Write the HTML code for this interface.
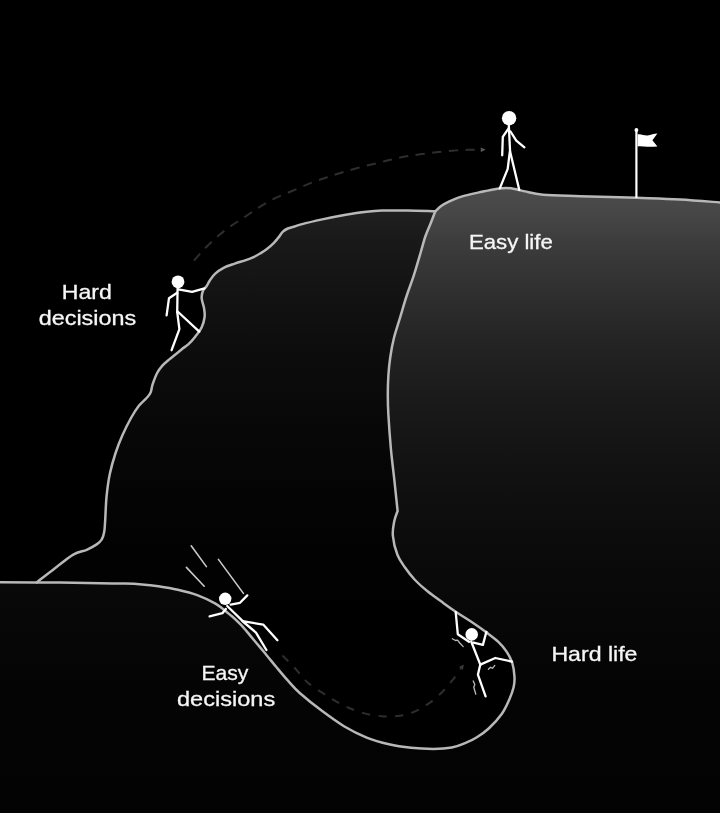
<!DOCTYPE html>
<html><head><meta charset="utf-8"><style>
html,body{margin:0;padding:0;background:#000;}
body{width:720px;height:813px;overflow:hidden;position:relative;}
svg{position:absolute;left:0;top:0;display:block;}
</style></head><body>
<svg width="720" height="813" viewBox="0 0 720 813">
<defs>
<linearGradient id="gP" x1="0" y1="190" x2="0" y2="813" gradientUnits="userSpaceOnUse">
<stop offset="0.0000" stop-color="#4b4b4b"/>
<stop offset="0.0401" stop-color="#464646"/>
<stop offset="0.0803" stop-color="#3d3d3d"/>
<stop offset="0.1605" stop-color="#303030"/>
<stop offset="0.2408" stop-color="#242424"/>
<stop offset="0.3371" stop-color="#1a1a1a"/>
<stop offset="0.4013" stop-color="#151515"/>
<stop offset="0.4976" stop-color="#0f0f0f"/>
<stop offset="0.5939" stop-color="#0a0a0a"/>
<stop offset="0.6581" stop-color="#080808"/>
<stop offset="0.7223" stop-color="#060606"/>
<stop offset="0.8186" stop-color="#040404"/>
<stop offset="1.0000" stop-color="#030303"/>
</linearGradient>
<linearGradient id="gM" x1="0" y1="210" x2="0" y2="560" gradientUnits="userSpaceOnUse">
<stop offset="0.0000" stop-color="#202020"/>
<stop offset="0.0857" stop-color="#191919"/>
<stop offset="0.2571" stop-color="#121212"/>
<stop offset="0.4000" stop-color="#0d0d0d"/>
<stop offset="0.6000" stop-color="#080808"/>
<stop offset="0.7714" stop-color="#050505"/>
<stop offset="1.0000" stop-color="#020202"/>
</linearGradient>
</defs>
<rect width="720" height="813" fill="#000"/>
<path d="M36.7 582.4 C39.8 580 48.9 572.8 55 568.2 C61.1 563.6 68 557.7 73.3 554.6 C78.6 551.5 82.8 551.5 86.7 549.8 C90.6 548.1 94.2 546.1 96.7 544.4 C99.2 542.7 100.5 541.6 101.7 539.5 C103 537.4 103.6 535.2 104.2 532 C104.8 528.8 104.8 526 105.2 520 C105.6 514 105.8 503.7 106.6 496 C107.4 488.3 108.3 481.1 109.8 474 C111.3 466.9 113.3 459.9 115.4 453.5 C117.5 447.1 119.7 441.5 122.3 435.6 C124.9 429.7 128.2 423 131 418 C133.8 413 136.3 409.1 138.9 405.8 C141.5 402.5 144.7 400.2 146.6 398 C148.5 395.8 149.6 394.8 150.6 392.5 C151.6 390.2 151.5 387.6 152.6 384.4 C153.7 381.2 155.4 376.4 157 373.3 C158.6 370.2 160.2 368 162.4 365.6 C164.6 363.2 166.8 361.6 170 358.9 C173.2 356.2 178.4 351.8 181.5 349.4 C184.6 346.9 186.2 346.4 188.5 344.2 C190.8 342 193.2 339.2 195.4 336.4 C197.6 333.6 200.2 330.4 201.7 327.2 C203.2 324 204.2 320.2 204.6 317 C205 313.8 204.5 311.1 204 308 C203.5 304.9 201.9 301.3 201.7 298.5 C201.5 295.7 202.1 293 202.9 291 C203.7 289 205.3 288.1 206.5 286.3 C207.7 284.6 208.4 282.6 209.8 280.5 C211.2 278.4 212.7 275.9 215 273.8 C217.3 271.7 220.3 269.5 223.6 267.8 C226.9 266.1 231 264.9 234.7 263.6 C238.4 262.3 242.8 261.2 245.8 260.1 C248.9 259.1 250.6 258.4 253 257.3 C255.4 256.2 257.7 254.9 260 253.5 C262.3 252.1 264.6 250.8 266.9 249 C269.2 247.2 271.9 244.8 273.9 242.8 C275.9 240.8 277.2 239 278.8 237.2 C280.2 235.3 281.4 233.1 282.9 231.7 C284.4 230.2 285.8 229.4 287.8 228.5 C289.8 227.6 292.5 227.2 294.7 226.5 C296.9 225.8 296.6 225.6 301.2 224.4 C305.8 223.2 315 221 322.2 219.4 C329.4 217.8 337 216.3 344.4 215 C351.8 213.7 360.4 212.4 366.7 211.7 C373 211 375.2 210.8 382 210.6 C388.8 210.4 398.6 210.5 407.5 210.6 C416.4 210.7 430.7 211.2 435.3 211.3 L436 600 L36.7 600 Z" fill="url(#gM)"/>
<path d="M0 582.3 C10 582.3 43.3 582.5 60 582.6 C76.7 582.8 89.2 583 100 583.2 C110.8 583.4 118 583.4 125 583.6 C132 583.8 136.4 584 142 584.4 C147.6 584.8 152.3 585.3 158.3 586.2 C164.3 587.1 171.3 588.2 177.8 589.7 C184.3 591.2 191 592.8 197.2 595.1 C203.4 597.4 210.6 600.9 215 603.3 C219.4 605.7 220.7 607.2 223.6 609.4 C226.5 611.6 229.3 614 232.2 616.5 C235.1 619 237.9 621.7 240.8 624.7 C243.7 627.7 246.5 631.2 249.4 634.6 C252.3 638 255.1 641.5 258 644.9 C260.9 648.3 263.5 651.5 266.6 655.2 C269.7 658.9 273 663.1 276.5 667.3 C280 671.5 283.6 675.9 287.5 680.2 C291.4 684.5 294.2 688.1 300 693.3 C305.8 698.4 314.8 705.6 322.2 711.1 C329.6 716.6 337 722.1 344.4 726.5 C351.8 730.9 359.3 734.6 366.7 737.6 C374.1 740.6 381.5 742.6 388.9 744.3 C396.3 746 403.7 747 411.1 747.8 C418.5 748.6 426.5 748.9 433.3 748.9 C440.1 748.9 446.5 748.5 451.8 747.6 C457.1 746.7 460.9 744.9 465.1 743.2 C469.3 741.5 473 739.8 476.9 737.3 C480.8 734.8 484.5 732.4 488.7 728.5 C492.9 724.6 498.5 718.5 501.9 713.7 C505.3 708.9 507.4 703.9 509.3 699.5 C511.2 695.1 512.7 691 513.6 687.2 C514.5 683.4 514.7 680.9 514.5 676.9 C514.3 672.9 513.6 667.2 512.3 663 C510.9 658.8 508.8 655 506.4 651.4 C504 647.8 501.6 644.9 498.1 641.6 C494.6 638.3 490 635.1 485.6 631.8 C481.2 628.5 476.6 625.3 471.7 622 C466.8 618.7 461.1 615.3 456.5 612.2 C451.9 609.1 448.7 606.9 443.9 603.4 C439.1 599.9 432.3 595.2 427.5 591.3 C422.7 587.4 418.7 583.9 415 580 C411.3 576.1 408.1 572 405.2 567.8 C402.3 563.6 399.6 560.3 397.5 555 C395.4 549.7 393.4 541.6 392.9 536 C392.3 530.4 393.4 525.7 394.2 521.5 C395 517.3 397 512.8 397.6 511 C397.1 506.2 395.7 492.8 394.6 482.4 C393.5 472 391.9 460 390.9 448.8 C389.9 437.6 388.9 424 388.4 415 C387.9 406 387.8 401.7 387.8 395 C387.8 388.3 388 381.3 388.4 375 C388.8 368.7 389.4 363.2 390.3 357 C391.2 350.8 392.3 344.4 394 337.7 C395.7 331 398.2 323.8 400.3 316.8 C402.4 309.9 404.3 302.9 406.6 296 C408.9 289.1 411.5 282.4 413.9 275.1 C416.3 267.8 418.9 258.5 420.8 252 C422.7 245.5 423.8 240.9 425.5 236 C427.2 231.1 429.4 226.6 431 222.5 C432.6 218.4 434.6 213.2 435.3 211.3 C436.3 210.4 439.1 207.5 441.5 205.8 C443.9 204.1 447.2 202.6 450 201.2 C452.8 199.8 455 198.7 458.3 197.6 C461.6 196.5 466.1 195.4 470 194.4 C473.9 193.4 477.8 192.7 482 191.8 C486.2 190.9 491 189.8 495 189.2 C499 188.6 502.7 188 506 188 C509.3 188 511.8 188.5 515 189.1 C518.2 189.7 520.3 190.4 525 191.4 C529.7 192.4 533.8 194 543 194.8 C552.2 195.6 564.3 195.7 580 196.2 C595.7 196.7 620.3 197.2 637 197.8 C653.7 198.4 665.8 198.7 680 199.5 C694.2 200.3 715 202.1 722 202.6 L722 820 L-2 820 Z" fill="url(#gP)"/>
<g fill="none" stroke="#b8b8b8" stroke-width="2.5" stroke-linejoin="round" stroke-linecap="round">
<path d="M36.7 582.4 C39.8 580 48.9 572.8 55 568.2 C61.1 563.6 68 557.7 73.3 554.6 C78.6 551.5 82.8 551.5 86.7 549.8 C90.6 548.1 94.2 546.1 96.7 544.4 C99.2 542.7 100.5 541.6 101.7 539.5 C103 537.4 103.6 535.2 104.2 532 C104.8 528.8 104.8 526 105.2 520 C105.6 514 105.8 503.7 106.6 496 C107.4 488.3 108.3 481.1 109.8 474 C111.3 466.9 113.3 459.9 115.4 453.5 C117.5 447.1 119.7 441.5 122.3 435.6 C124.9 429.7 128.2 423 131 418 C133.8 413 136.3 409.1 138.9 405.8 C141.5 402.5 144.7 400.2 146.6 398 C148.5 395.8 149.6 394.8 150.6 392.5 C151.6 390.2 151.5 387.6 152.6 384.4 C153.7 381.2 155.4 376.4 157 373.3 C158.6 370.2 160.2 368 162.4 365.6 C164.6 363.2 166.8 361.6 170 358.9 C173.2 356.2 178.4 351.8 181.5 349.4 C184.6 346.9 186.2 346.4 188.5 344.2 C190.8 342 193.2 339.2 195.4 336.4 C197.6 333.6 200.2 330.4 201.7 327.2 C203.2 324 204.2 320.2 204.6 317 C205 313.8 204.5 311.1 204 308 C203.5 304.9 201.9 301.3 201.7 298.5 C201.5 295.7 202.1 293 202.9 291 C203.7 289 205.3 288.1 206.5 286.3 C207.7 284.6 208.4 282.6 209.8 280.5 C211.2 278.4 212.7 275.9 215 273.8 C217.3 271.7 220.3 269.5 223.6 267.8 C226.9 266.1 231 264.9 234.7 263.6 C238.4 262.3 242.8 261.2 245.8 260.1 C248.9 259.1 250.6 258.4 253 257.3 C255.4 256.2 257.7 254.9 260 253.5 C262.3 252.1 264.6 250.8 266.9 249 C269.2 247.2 271.9 244.8 273.9 242.8 C275.9 240.8 277.2 239 278.8 237.2 C280.2 235.3 281.4 233.1 282.9 231.7 C284.4 230.2 285.8 229.4 287.8 228.5 C289.8 227.6 292.5 227.2 294.7 226.5 C296.9 225.8 296.6 225.6 301.2 224.4 C305.8 223.2 315 221 322.2 219.4 C329.4 217.8 337 216.3 344.4 215 C351.8 213.7 360.4 212.4 366.7 211.7 C373 211 375.2 210.8 382 210.6 C388.8 210.4 398.6 210.5 407.5 210.6 C416.4 210.7 430.7 211.2 435.3 211.3"/>
<path d="M0 582.3 C10 582.3 43.3 582.5 60 582.6 C76.7 582.8 89.2 583 100 583.2 C110.8 583.4 118 583.4 125 583.6 C132 583.8 136.4 584 142 584.4 C147.6 584.8 152.3 585.3 158.3 586.2 C164.3 587.1 171.3 588.2 177.8 589.7 C184.3 591.2 191 592.8 197.2 595.1 C203.4 597.4 210.6 600.9 215 603.3 C219.4 605.7 220.7 607.2 223.6 609.4 C226.5 611.6 229.3 614 232.2 616.5 C235.1 619 237.9 621.7 240.8 624.7 C243.7 627.7 246.5 631.2 249.4 634.6 C252.3 638 255.1 641.5 258 644.9 C260.9 648.3 263.5 651.5 266.6 655.2 C269.7 658.9 273 663.1 276.5 667.3 C280 671.5 283.6 675.9 287.5 680.2 C291.4 684.5 294.2 688.1 300 693.3 C305.8 698.4 314.8 705.6 322.2 711.1 C329.6 716.6 337 722.1 344.4 726.5 C351.8 730.9 359.3 734.6 366.7 737.6 C374.1 740.6 381.5 742.6 388.9 744.3 C396.3 746 403.7 747 411.1 747.8 C418.5 748.6 426.5 748.9 433.3 748.9 C440.1 748.9 446.5 748.5 451.8 747.6 C457.1 746.7 460.9 744.9 465.1 743.2 C469.3 741.5 473 739.8 476.9 737.3 C480.8 734.8 484.5 732.4 488.7 728.5 C492.9 724.6 498.5 718.5 501.9 713.7 C505.3 708.9 507.4 703.9 509.3 699.5 C511.2 695.1 512.7 691 513.6 687.2 C514.5 683.4 514.7 680.9 514.5 676.9 C514.3 672.9 513.6 667.2 512.3 663 C510.9 658.8 508.8 655 506.4 651.4 C504 647.8 501.6 644.9 498.1 641.6 C494.6 638.3 490 635.1 485.6 631.8 C481.2 628.5 476.6 625.3 471.7 622 C466.8 618.7 461.1 615.3 456.5 612.2 C451.9 609.1 448.7 606.9 443.9 603.4 C439.1 599.9 432.3 595.2 427.5 591.3 C422.7 587.4 418.7 583.9 415 580 C411.3 576.1 408.1 572 405.2 567.8 C402.3 563.6 399.6 560.3 397.5 555 C395.4 549.7 393.4 541.6 392.9 536 C392.3 530.4 393.4 525.7 394.2 521.5 C395 517.3 397 512.8 397.6 511 C397.1 506.2 395.7 492.8 394.6 482.4 C393.5 472 391.9 460 390.9 448.8 C389.9 437.6 388.9 424 388.4 415 C387.9 406 387.8 401.7 387.8 395 C387.8 388.3 388 381.3 388.4 375 C388.8 368.7 389.4 363.2 390.3 357 C391.2 350.8 392.3 344.4 394 337.7 C395.7 331 398.2 323.8 400.3 316.8 C402.4 309.9 404.3 302.9 406.6 296 C408.9 289.1 411.5 282.4 413.9 275.1 C416.3 267.8 418.9 258.5 420.8 252 C422.7 245.5 423.8 240.9 425.5 236 C427.2 231.1 429.4 226.6 431 222.5 C432.6 218.4 434.6 213.2 435.3 211.3 C436.3 210.4 439.1 207.5 441.5 205.8 C443.9 204.1 447.2 202.6 450 201.2 C452.8 199.8 455 198.7 458.3 197.6 C461.6 196.5 466.1 195.4 470 194.4 C473.9 193.4 477.8 192.7 482 191.8 C486.2 190.9 491 189.8 495 189.2 C499 188.6 502.7 188 506 188 C509.3 188 511.8 188.5 515 189.1 C518.2 189.7 520.3 190.4 525 191.4 C529.7 192.4 533.8 194 543 194.8 C552.2 195.6 564.3 195.7 580 196.2 C595.7 196.7 620.3 197.2 637 197.8 C653.7 198.4 665.8 198.7 680 199.5 C694.2 200.3 715 202.1 722 202.6"/>
</g>
<g fill="none" stroke="#2e2e2e" stroke-width="2" stroke-dasharray="9.3 7.4" stroke-linecap="butt">
<path d="M193.9 260.6 C195.8 258.5 201.8 251.7 205.6 247.8 C209.4 243.9 212.6 240.7 216.7 237.2 C220.8 233.7 225.4 230 230 226.7 C234.6 223.4 239.8 220.3 244.4 217.2 C249 214.1 252.9 211.2 257.8 208.2 C262.7 205.1 267.9 201.8 273.6 198.9 C279.3 196 285.8 193.6 292 191 C298.2 188.4 304.8 185.4 310.6 183.1 C316.5 180.8 321.8 179 327.1 177.2 C332.5 175.4 337.4 173.8 342.7 172.2 C348 170.6 353.7 169 359.2 167.5 C364.7 166 370.6 164.7 375.8 163.4 C381 162.1 385.5 161 390.4 159.8 C395.3 158.7 400.1 157.4 405 156.5 C409.9 155.6 414.8 155 420 154.3 C425.2 153.6 430.7 152.9 436 152.3 C441.3 151.7 446.8 151.1 452 150.7 C457.2 150.3 462.7 150 467.5 149.8 C472.3 149.6 478.8 149.6 481 149.6"/>
</g>
<path d="M480.8 147.4 L485.6 149.7 L480.8 152 Z" fill="#5a5a5a"/>
<g fill="none" stroke="#2e2e2e" stroke-width="2" stroke-dasharray="8.2 8.4">
<path d="M282.5 655.5 C284.7 657.7 291.4 664.4 295.5 668.8 C299.6 673.2 302.6 678 307 682 C311.4 686 317.2 689.3 322 692.5 C326.8 695.7 331.1 698.6 335.6 701.2 C340.1 703.8 344.2 706 349 708 C353.8 710 358.9 712 364.4 713.4 C369.9 714.8 376.3 715.8 382.2 716.2 C388.1 716.6 394.4 716.6 400 715.8 C405.6 715 410.8 713.3 415.6 711.2 C420.4 709.1 424.6 706.4 428.9 703.4 C433.2 700.4 437.3 696.9 441.2 693 C445.1 689.1 449 684.6 452.5 680.2 C456 675.8 460.7 668.7 462.3 666.4"/>
</g>
<path d="M463.8 664.4 L462.9 669.8 L459 667 Z" fill="#3a3a3a"/>
<g fill="none" stroke="#ffffff" stroke-width="2.3" stroke-linejoin="round" stroke-linecap="round">
<circle cx="178" cy="281.8" r="6.4" fill="#ffffff" stroke="none"/>
<path d="M177.6 288 L177.2 312"/>
<path d="M178.3 289.4 L192.1 291.8 L204.5 288.4"/>
<path d="M177.2 292.8 L169 298.2 L166.6 315.4"/>
<path d="M177.6 311.5 L199.3 331.6"/>
<path d="M177.2 312 L179.4 329.2 L171.6 350.2"/>
<circle cx="509.1" cy="118.2" r="7.2" fill="#ffffff" stroke="none"/>
<path d="M508.8 125 L510.1 152"/>
<path d="M508.6 128.3 L502.8 136.9 L502.2 155.3"/>
<path d="M510.5 131.5 L516.3 140.6 L524.4 147.3"/>
<path d="M509.8 152 L507.7 168.9 L499.8 188.4"/>
<path d="M510.2 152 L519.3 190"/>
<circle cx="225.2" cy="598.8" r="6.2" fill="#ffffff" stroke="none"/>
<path d="M227.2 606 L243 621.3"/>
<path d="M230.6 604.6 L240 602.8 L247.3 595.4"/>
<path d="M225.8 609 L222.4 613.2 L209.6 616.4"/>
<path d="M242.5 621.2 L263.2 624.6 L277.4 640.2"/>
<path d="M243.5 622 L256 632.6 L266.4 650"/>
<circle cx="471.7" cy="634.4" r="6.3" fill="#ffffff" stroke="none"/>
<path d="M455.7 612.2 L457.8 634.2 L469 641.8"/>
<path d="M486.4 631.8 L482.9 644.9 L473.5 642.6"/>
<path d="M471.2 641.5 L480.3 664.6"/>
<path d="M480.3 664.6 L495.3 658 L512 661.6"/>
<path d="M480.3 664.6 L477.9 674.7 L485.6 696.3"/>
</g>
<g fill="none" stroke="#cacaca" stroke-width="1.6" stroke-linecap="round">
<path d="M191.2 545.8 L206.4 566.6"/>
<path d="M186.4 567.4 L204.2 586.2"/>
<path d="M218.4 559.4 L243.4 593.4"/>
</g>
<g fill="none" stroke="#bbbbbb" stroke-width="1.3" stroke-linecap="round" stroke-linejoin="round">
<path d="M452.3 638.8 L455.5 640.5 L457.5 640.2 L459.8 643 L463.2 646.6"/>
<path d="M488.4 669.2 L490.5 667.2 L492.4 668.3 L494.8 665.4"/>
<path d="M473.2 681 L474.8 684.5 L473.8 687.2 L475.8 694.2"/>
</g>
<path d="M636.4 130 L636.4 198" stroke="#ffffff" stroke-width="2.2" fill="none"/>
<circle cx="636.4" cy="130" r="1.9" fill="#fff"/>
<path d="M637.6 134.3 C641 133.6 644 135.6 647.5 135.4 C651 135.2 654 133.6 657.4 133.6 L652.4 140.2 L657.4 146.4 C654 146.4 651 147 647.6 146.8 C644 146.6 641 146 637.6 146.4 Z" fill="#ffffff"/>
<g style="will-change:transform" font-family="&quot;Liberation Sans&quot;, sans-serif" font-size="21" fill="#f6f6f6" stroke="#f6f6f6" stroke-width="0.3">
<text id="t1" x="61.8" y="299.2" textLength="50.0" lengthAdjust="spacingAndGlyphs">Hard</text>
<text id="t2" x="38.7" y="325.3" textLength="97.5" lengthAdjust="spacingAndGlyphs">decisions</text>
<text id="t3" x="468.9" y="249.2" textLength="83.9" lengthAdjust="spacingAndGlyphs">Easy life</text>
<text id="t4" x="551.4" y="660.6" textLength="86.1" lengthAdjust="spacingAndGlyphs">Hard life</text>
<text id="t5" x="201.5" y="679.6" textLength="46.9" lengthAdjust="spacingAndGlyphs">Easy</text>
<text id="t6" x="177.0" y="706.0" textLength="98.2" lengthAdjust="spacingAndGlyphs">decisions</text>
</g>
</svg>
</body></html>
